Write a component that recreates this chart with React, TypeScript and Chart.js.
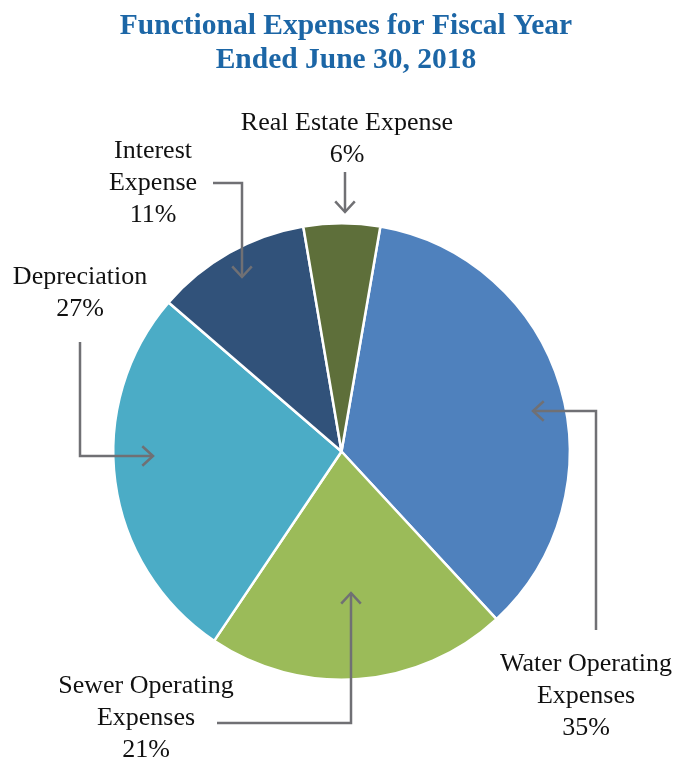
import React, { useEffect, useRef } from "react";
import { Chart, registerables } from "chart.js";

Chart.register(...registerables);

const categories = [
  "Water Operating Expenses",
  "Sewer Operating Expenses",
  "Depreciation",
  "Interest Expense",
  "Real Estate Expense",
];
const shareValues = [35.4, 21.3, 26.9, 11.0, 5.4];
const percentLabels = ["35%", "21%", "27%", "11%", "6%"];
const labelLines = [
  ["Water Operating", "Expenses"],
  ["Sewer Operating", "Expenses"],
  ["Depreciation"],
  ["Interest", "Expense"],
  ["Real Estate Expense"],
];
const sliceColors = ["#4F81BD", "#9BBB59", "#4BACC6", "#31527A", "#5E6F3A"];
const titleLines = ["Functional Expenses for Fiscal Year", "Ended June 30, 2018"];

// callout layout: text anchor (center x, first line center y) and connector path (last point = arrow tip)
const callouts = [
  { x: 586, y: 664, path: [[596, 630], [596, 411], [533, 411]] },
  { x: 146, y: 686, path: [[217, 723], [351, 723], [351, 593]] },
  { x: 80, y: 277, path: [[80, 342], [80, 456], [153, 456]] },
  { x: 153, y: 151, path: [[213, 183], [242, 183], [242, 277]] },
  { x: 347, y: 123, path: [[345, 172], [345, 212]] },
];

const FONT = "'Liberation Serif', 'DejaVu Serif', serif";

const annotPlugin = {
  id: "annot",
  afterDraw(chart: any) {
    const ctx = chart.ctx;
    ctx.save();
    // title
    ctx.fillStyle = "#1C66A6";
    ctx.font = `bold 29.5px ${FONT}`;
    ctx.textAlign = "center";
    ctx.textBaseline = "middle";
    titleLines.forEach((t, i) => ctx.fillText(t, 346, 26 + i * 34));

    // callouts
    ctx.font = `26px ${FONT}`;
    ctx.fillStyle = "#111";
    const lh = 32;
    callouts.forEach((c, i) => {
      const lines = [...labelLines[i], percentLabels[i]];
      lines.forEach((l, j) => ctx.fillText(l, c.x, c.y + j * lh));
      // connector
      ctx.strokeStyle = "#707074";
      ctx.lineWidth = 2.5;
      ctx.lineJoin = "miter";
      ctx.beginPath();
      c.path.forEach((p, k) => (k === 0 ? ctx.moveTo(p[0], p[1]) : ctx.lineTo(p[0], p[1])));
      ctx.stroke();
      const n = c.path.length;
      const [tx, ty] = c.path[n - 1];
      const [px, py] = c.path[n - 2];
      const ang = Math.atan2(ty - py, tx - px);
      const L = 14.5;
      ctx.beginPath();
      ctx.moveTo(tx + L * Math.cos(ang + Math.PI - 0.74), ty + L * Math.sin(ang + Math.PI - 0.74));
      ctx.lineTo(tx, ty);
      ctx.lineTo(tx + L * Math.cos(ang + Math.PI + 0.74), ty + L * Math.sin(ang + Math.PI + 0.74));
      ctx.stroke();
    });
    ctx.restore();
  },
};

export default function App() {
  const ref = useRef<HTMLCanvasElement>(null);
  useEffect(() => {
    if (!ref.current) return;
    const chart = new Chart(ref.current, {
      type: "pie",
      data: {
        labels: categories,
        datasets: [
          {
            data: shareValues,
            backgroundColor: sliceColors,
            borderColor: "#ffffff",
            borderWidth: 2.5,
          },
        ],
      },
      options: {
        responsive: false,
        animation: false,
        rotation: 9.8,
        layout: { padding: { left: 112, right: 113, top: 222, bottom: 76 } },
        plugins: {
          legend: { display: false },
          tooltip: { enabled: false },
          title: { display: false },
        },
      },
      plugins: [annotPlugin],
    });
    return () => chart.destroy();
  }, []);
  return (
    <div style={{ position: "fixed", left: 0, top: 0, width: 684, height: 757, background: "#fff" }}>
      <canvas ref={ref} width={684} height={757} style={{ width: 684, height: 757 }} />
    </div>
  );
}
